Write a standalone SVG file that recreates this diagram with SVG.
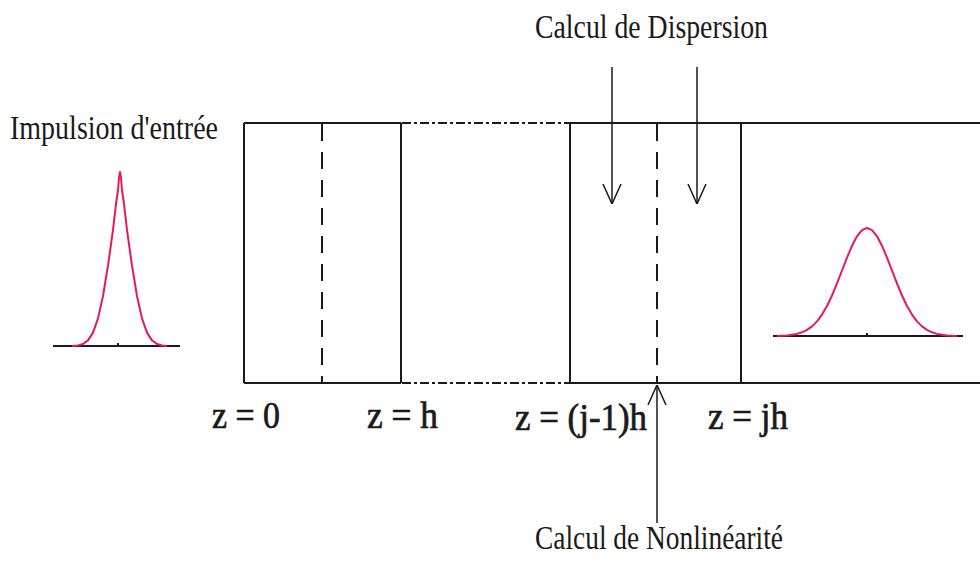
<svg xmlns="http://www.w3.org/2000/svg" width="980" height="565" viewBox="0 0 980 565">
<style>
.ln{stroke:#1a1a1a;stroke-width:2;fill:none}
.dash{stroke:#1a1a1a;stroke-width:2;fill:none;stroke-dasharray:17 11}
.dd{stroke:#1a1a1a;stroke-width:2;fill:none;stroke-dasharray:9 3 3 3}
.pulse{stroke:#e6195a;stroke-width:2;fill:none;stroke-linejoin:round}
.arr{stroke:#1a1a1a;stroke-width:1.5;fill:none;marker-end:url(#v)}
.t{font-family:"Liberation Serif","Times New Roman",serif;fill:#1a1a1a}
.lab{font-size:34px}
.z{font-size:37px;stroke:#1a1a1a;stroke-width:0.7}
</style>
<defs>
<marker id="v" viewBox="0 0 20 20" refX="20" refY="10" markerWidth="20" markerHeight="20" markerUnits="userSpaceOnUse" orient="auto">
<path d="M0,1 L20,10 L0,19" fill="none" stroke="#1a1a1a" stroke-width="1.5"/>
</marker>
</defs>
<rect width="980" height="565" fill="#ffffff"/>

<g id="fibre">
<line class="ln" x1="244" y1="123" x2="401" y2="123"/>
<line class="ln" x1="244" y1="383" x2="401" y2="383"/>
<line class="ln" x1="244" y1="123" x2="244" y2="383"/>
<line class="ln" x1="401" y1="123" x2="401" y2="383"/>
<line class="dash" x1="322" y1="124" x2="322" y2="383"/>
<line class="dd" x1="402" y1="123" x2="570" y2="123"/>
<line class="dd" x1="402" y1="383" x2="570" y2="383"/>
<line class="ln" x1="570" y1="123" x2="980" y2="123"/>
<line class="ln" x1="570" y1="383" x2="980" y2="383"/>
<line class="ln" x1="570" y1="123" x2="570" y2="383"/>
<line class="ln" x1="741" y1="123" x2="741" y2="383"/>
<line class="dash" x1="657" y1="124" x2="657" y2="383"/>
</g>

<g id="input-pulse">
<line class="ln" x1="53" y1="346" x2="180" y2="346"/>
<line class="ln" x1="118" y1="343" x2="118" y2="347" stroke-width="1"/>
<polyline class="pulse" points="72,346 78,345.5 83,344 88,340.4 93,332.6 98,318.4 103,296 108,265.7 113,229.8 116,204 118,190 119,178 120,172 121,178 122,190 124,204 127,229.8 132,265.7 137,296 142,318.4 147,332.6 152,340.4 157,344 162,345.5 167,346"/>
</g>

<g id="output-pulse">
<line class="ln" x1="773" y1="336" x2="963" y2="336"/>
<line class="ln" x1="867" y1="333" x2="867" y2="337" stroke-width="1"/>
<polyline class="pulse" points="777,336 787,335.4 797,333.9 802,332.3 807,329.9 812,326.4 817,321.4 822,314.6 827,306 832,295.5 837,283.4 842,270.5 847,257.6 852,245.8 857,236.3 862,230.2 867,228 872,230.2 877,236.3 882,245.8 887,257.6 892,270.5 897,283.4 902,295.5 907,306 912,314.6 917,321.4 922,326.4 927,329.9 932,332.3 937,333.9 947,335.4 957,336"/>
</g>

<g id="connectors">
<line class="arr" x1="612" y1="67" x2="612" y2="204"/>
<line class="arr" x1="697" y1="67" x2="697" y2="204"/>
<line class="arr" x1="657" y1="523" x2="657" y2="385"/>
</g>

<g id="labels">
<text class="t lab" x="10" y="139" textLength="208" lengthAdjust="spacingAndGlyphs">Impulsion d'entrée</text>
<text class="t lab" x="535" y="38" textLength="233" lengthAdjust="spacingAndGlyphs">Calcul de Dispersion</text>
<text class="t lab" x="535" y="549" textLength="248" lengthAdjust="spacingAndGlyphs">Calcul de Nonlinéarité</text>
<text class="t z" x="212" y="428" textLength="68" lengthAdjust="spacingAndGlyphs">z = 0</text>
<text class="t z" x="367" y="428" textLength="71" lengthAdjust="spacingAndGlyphs">z = h</text>
<text class="t z" x="515" y="430" textLength="132" lengthAdjust="spacingAndGlyphs">z = (j-1)h</text>
<text class="t z" x="708" y="429" textLength="80" lengthAdjust="spacingAndGlyphs">z = jh</text>
</g>
</svg>
